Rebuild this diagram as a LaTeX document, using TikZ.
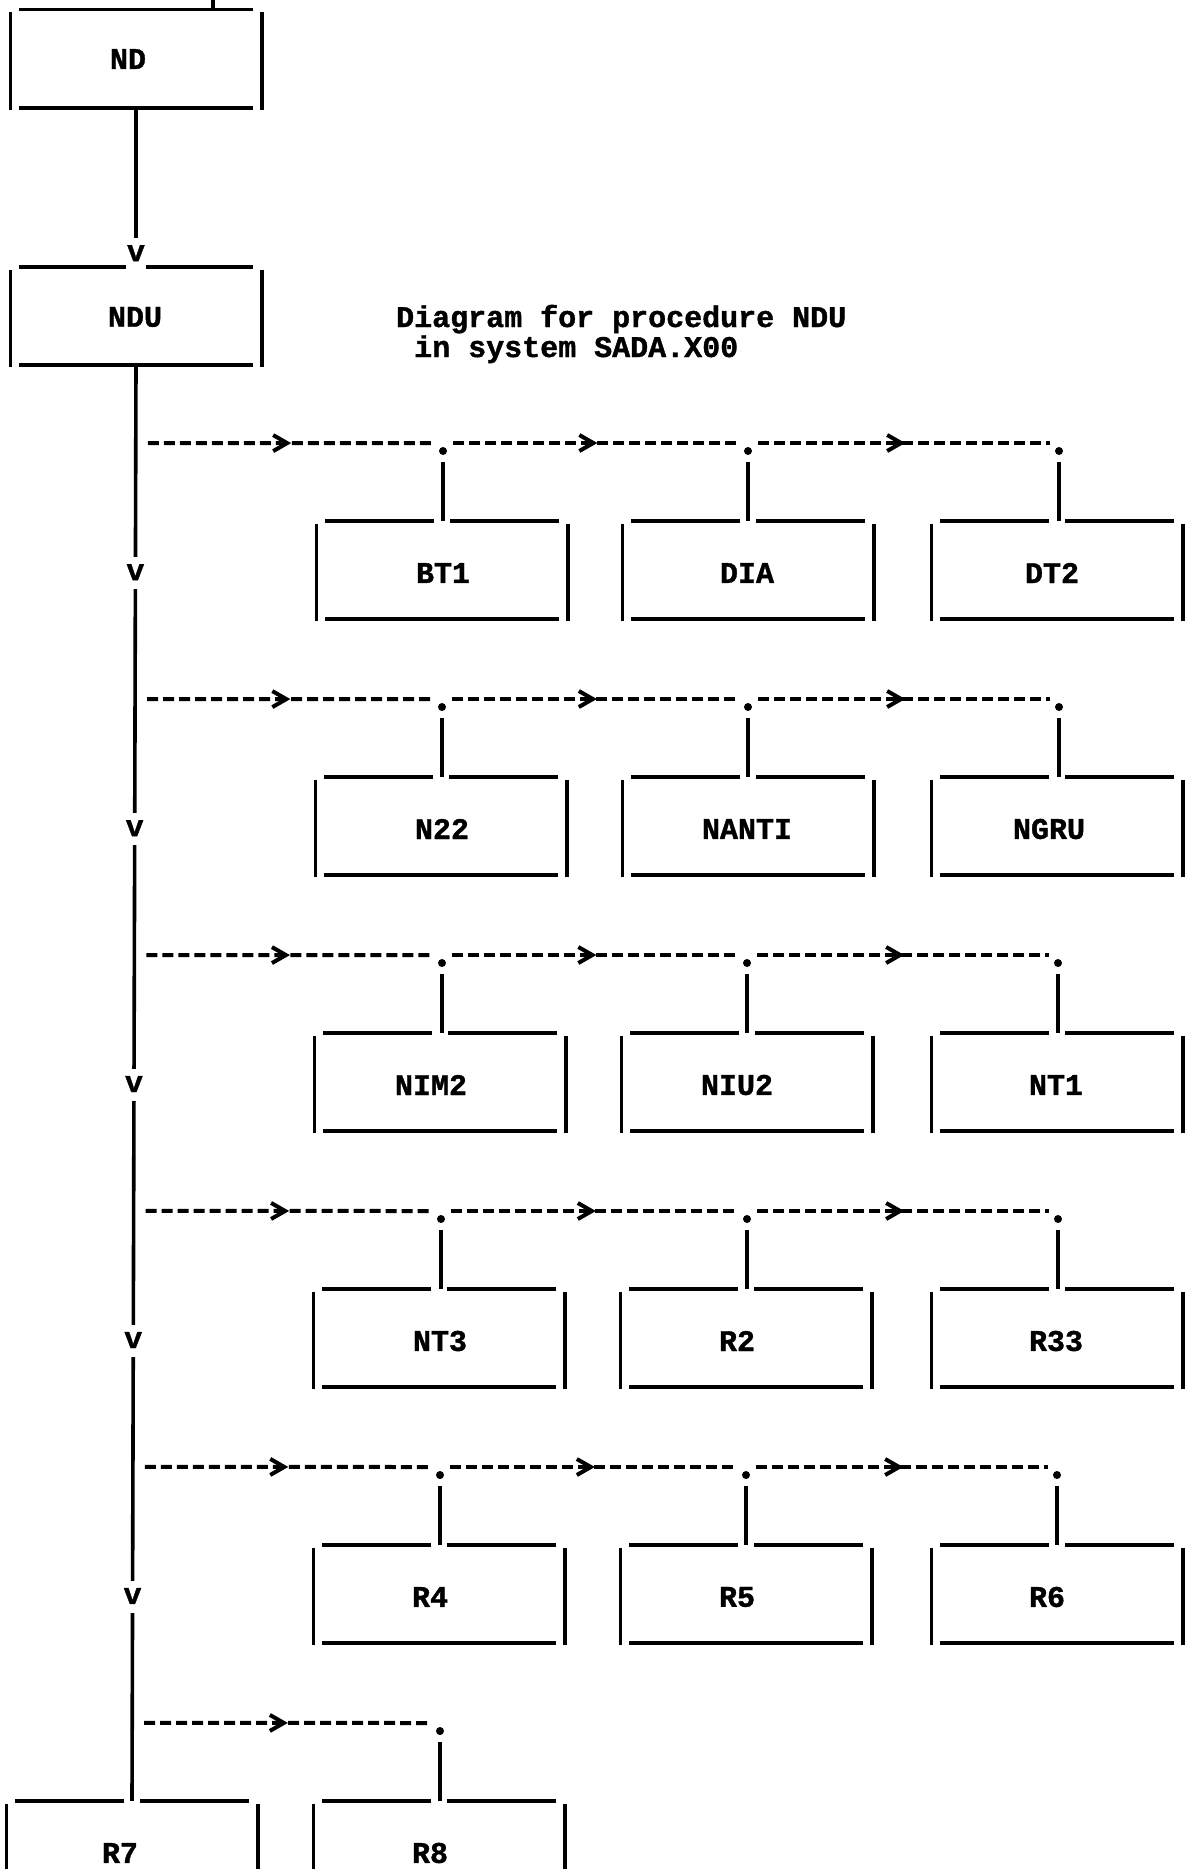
\documentclass[tikz,border=0pt]{standalone}
\usepackage{fontspec}
\setmonofont{Liberation Mono}[BoldFeatures={FakeBold=1.3}]
\usetikzlibrary{decorations.markings,calc}
\begin{document}
\begin{tikzpicture}[x=1pt,y=-1pt,
  every node/.style={font=\ttfamily\bfseries\fontsize{30}{34}\selectfont},
  ln/.style={line width=3.6pt},
  box/.style={draw=none, minimum width=251pt, minimum height=98pt, inner sep=0pt},
  lbl/.style={inner sep=0pt},
  vmark/.style={fill=white, inner xsep=0.5pt, inner ysep=9pt, text height=14pt, text depth=0pt},
  dotmark/.style={circle, fill=black, inner sep=0pt, minimum size=8pt},
  call/.style={line width=4pt, dash pattern=on 11pt off 5pt, shorten <=#1, shorten >=9pt,
    postaction={decorate, decoration={markings, mark=at position 0.47 with
      {\draw[solid, line width=4pt, shorten <=0pt, shorten >=0pt, line join=miter]
        (-7pt,8pt) -- (7pt,0pt) -- (-7pt,-8pt);}}}},
  call/.default=10pt
]
\useasboundingbox (0,0) rectangle (1187,1869);
\clip (0,0) rectangle (1187,1869);

% ---------- boxes ----------
\node[box] (ND)  at (136,58.5) {};
\node[box] (NDU) at (136,316) {};

\node[box] (BT1)   at (442,570) {};
\node[box] (DIA)   at (748,570) {};
\node[box] (DT2)   at (1057,570) {};

\node[box] (N22)   at (441,826) {};
\node[box] (NANTI) at (748,826) {};
\node[box] (NGRU)  at (1057,826) {};

\node[box] (NIM2)  at (440,1082) {};
\node[box] (NIU2)  at (747,1082) {};
\node[box] (NT1)   at (1057,1082) {};

\node[box] (NT3)   at (439,1338) {};
\node[box] (R2)    at (746,1338) {};
\node[box] (R33)   at (1057,1338) {};

\node[box] (R4)    at (439,1594) {};
\node[box] (R5)    at (746,1594) {};
\node[box] (R6)    at (1057,1594) {};

\node[box] (R7)    at (132,1850) {};
\node[box] (R8)    at (439,1850) {};

% ND box: continuous top edge
\draw[ln] ([xshift=9pt]ND.north west) -- ([xshift=-9pt]ND.north east);
\draw[ln] ([xshift=9pt]ND.south west) -- ([xshift=-9pt]ND.south east);
\draw[ln] ([yshift=-3pt]ND.north west) -- ([yshift=-2pt]ND.south west);
\draw[ln] ([yshift=-3pt]ND.north east) -- ([yshift=-2pt]ND.south east);

% other boxes: top edge open where the connector enters
\foreach \b in {NDU,BT1,DIA,DT2,N22,NANTI,NGRU,NIM2,NIU2,NT1,NT3,R2,R33,R4,R5,R6,R7,R8} {
  \draw[ln] ([xshift=9pt]\b.north west) -- ([xshift=-8pt]\b.north);
  \draw[ln] ([xshift=8pt]\b.north) -- ([xshift=-9pt]\b.north east);
  \draw[ln] ([xshift=9pt]\b.south west) -- ([xshift=-9pt]\b.south east);
  \draw[ln] ([yshift=-3pt]\b.north west) -- ([yshift=-2pt]\b.south west);
  \draw[ln] ([yshift=-3pt]\b.north east) -- ([yshift=-2pt]\b.south east);
}

% ---------- labels ----------
\node[lbl] (NDl)    at (128,59)   {ND};
\node[lbl] (NDUl)   at (135,317)  {NDU};
\node[lbl] (BT1l)   at (443,573)  {BT1};
\node[lbl] (DIAl)   at (747,573)  {DIA};
\node[lbl] (DT2l)   at (1052,573) {DT2};
\node[lbl] (N22l)   at (442,829)  {N22};
\node[lbl] (NANTIl) at (747,829)  {NANTI};
\node[lbl] (NGRUl)  at (1049,829) {NGRU};
\node[lbl] (NIM2l)  at (431,1085) {NIM2};
\node[lbl] (NIU2l)  at (737,1085) {NIU2};
\node[lbl] (NT1l)   at (1056,1085){NT1};
\node[lbl] (NT3l)   at (440,1341) {NT3};
\node[lbl] (R2l)    at (737,1341) {R2};
\node[lbl] (R33l)   at (1056,1341){R33};
\node[lbl] (R4l)    at (430,1597) {R4};
\node[lbl] (R5l)    at (737,1597) {R5};
\node[lbl] (R6l)    at (1047,1597){R6};
\node[lbl] (R7l)    at (120,1853) {R7};
\node[lbl] (R8l)    at (430,1853) {R8};

\node[lbl, anchor=base west] (title1) at (396,327) {Diagram for procedure NDU};
\node[lbl, anchor=base west] (title2) at (396,357) {\ in system SADA.X00};

% ---------- tick above ND ----------
\coordinate (tk) at (213,0);
\draw[ln] (tk) -- (tk |- ND.north);

% ---------- main flow ----------
\draw[ln] (ND.south) -- (NDU.north) node[vmark, pos=0.92] {v};

\foreach \i/\t in {0/0.0543,1/0.2326,2/0.4109,3/0.5891,4/0.7674,5/0.9457}
  \coordinate (m\i) at ($(NDU.south)!\t!(R7.north)$);

% junction points on the dashed lines (above the dots)
\coordinate (j01) at (443,443);  \coordinate (j02) at (748,443);  \coordinate (j03) at (1059,443);
\coordinate (j11) at (442,699);  \coordinate (j12) at (748,699);  \coordinate (j13) at (1059,699);
\coordinate (j21) at (442,955);  \coordinate (j22) at (747,955);  \coordinate (j23) at (1058,955);
\coordinate (j31) at (441,1211); \coordinate (j32) at (747,1211); \coordinate (j33) at (1058,1211);
\coordinate (j41) at (440,1467); \coordinate (j42) at (746,1467); \coordinate (j43) at (1057,1467);
\coordinate (j51) at (440,1723);

% dots
\foreach \j in {01,02,03,11,12,13,21,22,23,31,32,33,41,42,43,51}
  \node[dotmark] (d\j) at ([yshift=-8pt]j\j) {};

% dashed call lines
\foreach \r in {0,1,2,3,4} {
  \draw[call=12pt] (m\r) -- (j\r1);
  \draw[call] (j\r1) -- (j\r2);
  \draw[call] (j\r2) -- (j\r3);
}
\draw[call=12pt] (m5) -- (j51);

% stubs from dots into the boxes
\draw[ln, shorten <=7pt] (d01) -- (d01 |- BT1.north);
\draw[ln, shorten <=7pt] (d02) -- (d02 |- DIA.north);
\draw[ln, shorten <=7pt] (d03) -- (d03 |- DT2.north);
\draw[ln, shorten <=7pt] (d11) -- (d11 |- N22.north);
\draw[ln, shorten <=7pt] (d12) -- (d12 |- NANTI.north);
\draw[ln, shorten <=7pt] (d13) -- (d13 |- NGRU.north);
\draw[ln, shorten <=7pt] (d21) -- (d21 |- NIM2.north);
\draw[ln, shorten <=7pt] (d22) -- (d22 |- NIU2.north);
\draw[ln, shorten <=7pt] (d23) -- (d23 |- NT1.north);
\draw[ln, shorten <=7pt] (d31) -- (d31 |- NT3.north);
\draw[ln, shorten <=7pt] (d32) -- (d32 |- R2.north);
\draw[ln, shorten <=7pt] (d33) -- (d33 |- R33.north);
\draw[ln, shorten <=7pt] (d41) -- (d41 |- R4.north);
\draw[ln, shorten <=7pt] (d42) -- (d42 |- R5.north);
\draw[ln, shorten <=7pt] (d43) -- (d43 |- R6.north);
\draw[ln, shorten <=7pt] (d51) -- (d51 |- R8.north);

% main vertical line with its v marks
\draw[ln] (NDU.south) -- (R7.north)
  node[vmark, pos=0.1448] {v}
  node[vmark, pos=0.3231] {v}
  node[vmark, pos=0.5014] {v}
  node[vmark, pos=0.6797] {v}
  node[vmark, pos=0.8580] {v};
\end{tikzpicture}
\end{document}
